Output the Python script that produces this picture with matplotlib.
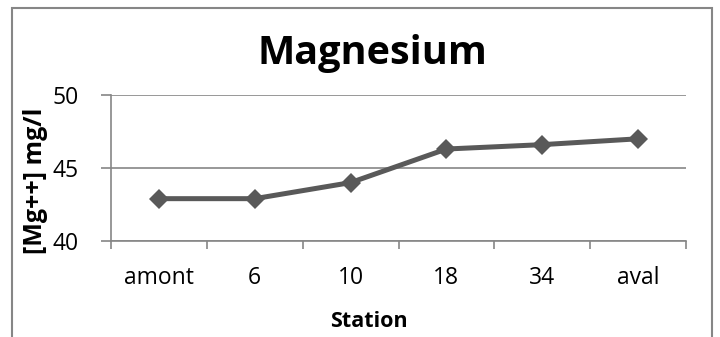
#!/usr/bin/env python3
# -*- coding: utf-8 -*-
"""
Magnesium par station
"""
import matplotlib.pyplot as plt
from matplotlib.patches import Rectangle

#%% Données
stations = ['amont', '6', '10', '18', '34', 'aval']
mg = [42.9, 42.9, 44.0, 46.3, 46.6, 47.0]
yticks = [40, 45, 50]

plt.rcParams['font.family'] = ['Open Sans', 'DejaVu Sans']
gris = '#868686'

fig = plt.figure(figsize=(7.2, 3.37), dpi=100)
ax = fig.add_axes([111/720, 1 - 241/337, 575/720, 146/337])

x = range(len(stations))
ax.plot(x, mg, color='#595959', linewidth=3.6, marker='D', markersize=10,
        markeredgewidth=0, zorder=3)

ax.set_xlim(-0.5, len(stations) - 0.5)
ax.set_ylim(40, 50)
ax.set_yticks(yticks)
ax.set_xticks([i - 0.5 for i in range(len(stations) + 1)])
ax.set_xticklabels([])
ax.set_xticks(list(x), minor=True)
ax.set_xticklabels(stations, minor=True)
ax.tick_params(axis='x', which='major', length=6, width=1.2, color=gris, direction='out')
ax.tick_params(axis='x', which='minor', length=0, pad=18, labelsize=16.5)
ax.tick_params(axis='y', length=7, width=1.2, color=gris, pad=16, labelsize=16.5)

ax.grid(axis='y', color=gris, linewidth=1.2)
ax.set_axisbelow(True)
for s in ['top', 'right']:
    ax.spines[s].set_visible(False)
for s in ['left', 'bottom']:
    ax.spines[s].set_color(gris)
    ax.spines[s].set_linewidth(1.2)

fig.text(372/720, 1 - 64/337, 'Magnesium', ha='center', va='baseline',
         fontsize=28.5, fontweight='bold')
fig.text(369/720, 1 - 327/337, 'Station', ha='center', va='baseline',
         fontsize=15.5, fontweight='bold')
fig.text(36/720, 1 - 181/337, '[Mg++] mg/l', ha='center', va='center',
         rotation=90, fontsize=18, fontweight='bold')

# cadre du graphique
fig.patches.append(Rectangle((11.5/720, -0.1), 701/720, 1.1 - 7.5/337,
                             transform=fig.transFigure, fill=False,
                             edgecolor=gris, linewidth=1.5))

fig.savefig('out.png', dpi=100)
